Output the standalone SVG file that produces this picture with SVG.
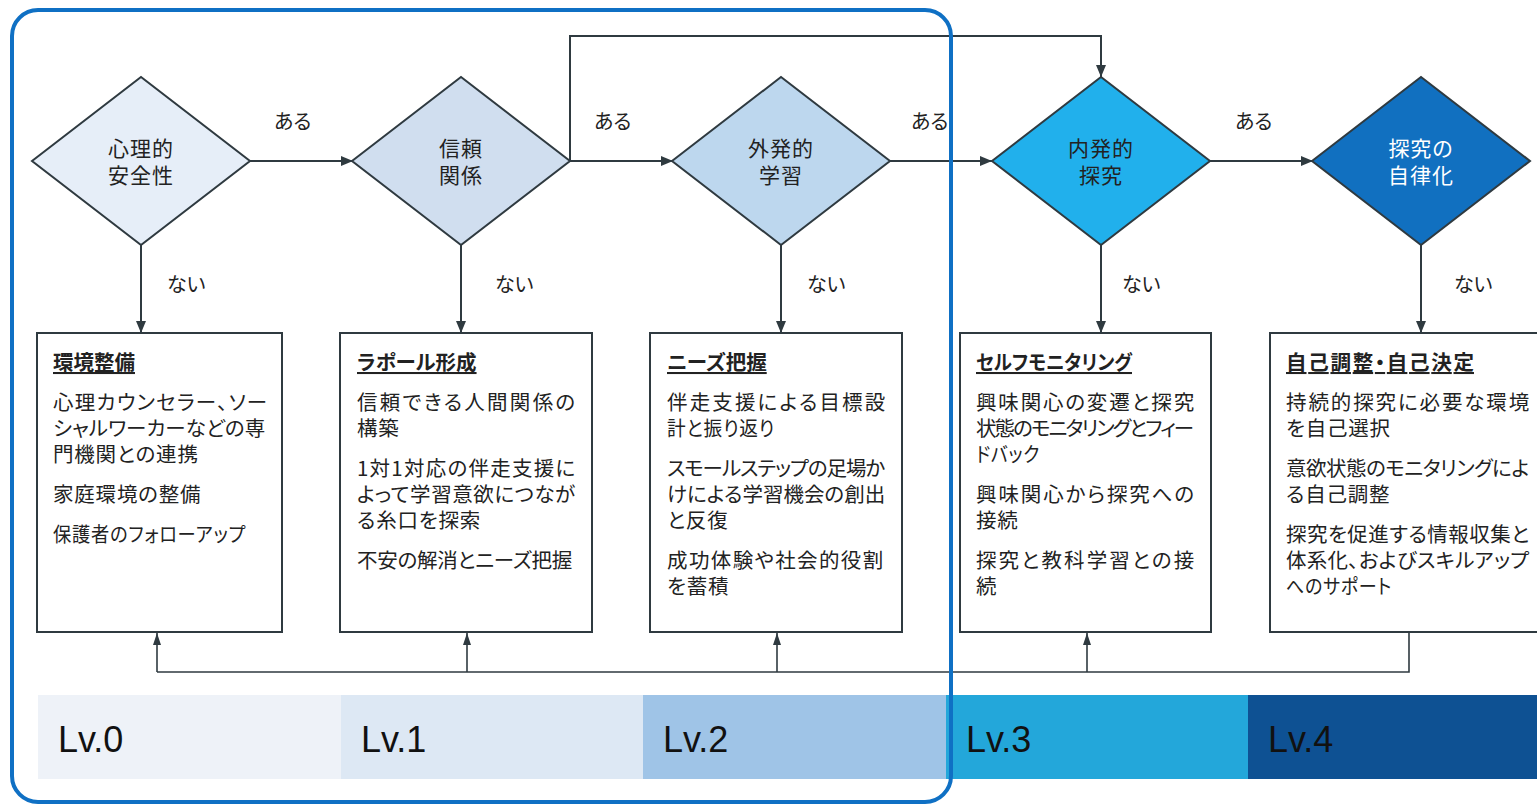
<svg xmlns="http://www.w3.org/2000/svg" width="1537" height="804" viewBox="0 0 1537 804">
<style>
.jp{font-family:"Noto Sans CJK JP","Noto Sans",sans-serif;font-feature-settings:"palt";fill:#222}
.dia{stroke:#2f3a40;stroke-width:2}
.dt{font-size:21px;letter-spacing:1px;text-anchor:middle}
.lbl{font-size:20px}
.box{fill:#fff;stroke:#2f3a40;stroke-width:2}
.ttl{font-size:20.5px;font-weight:700;text-decoration:underline}
.bt{font-size:20.5px;letter-spacing:0.8px}
.con{fill:none;stroke:#2f3a40;stroke-width:2}
.fb{fill:none;stroke:#2f3a40;stroke-width:1.6}
.lv{font-family:"Liberation Sans",Arial,sans-serif;font-size:36px;fill:#111}
</style>
<defs>
<marker id="ah" viewBox="0 0 12 10" refX="12" refY="5" markerWidth="12" markerHeight="10" markerUnits="userSpaceOnUse" orient="auto"><path d="M0,0 L12,5 L0,10 z" fill="#2f3a40"/></marker>
<marker id="ahs" viewBox="0 0 12 8" refX="12" refY="4" markerWidth="12" markerHeight="8" markerUnits="userSpaceOnUse" orient="auto"><path d="M0,0 L12,4 L0,8 z" fill="#2f3a40"/></marker>
</defs>
<rect width="1537" height="804" fill="#fff"/>

<g id="levels">
<rect x="38" y="695" width="303" height="84" fill="#eef2f8"/>
<rect x="341" y="695" width="302" height="84" fill="#dde8f4"/>
<rect x="643" y="695" width="303" height="84" fill="#9fc4e7"/>
<rect x="946" y="695" width="302" height="84" fill="#23a7da"/>
<rect x="1248" y="695" width="289" height="84" fill="#0e5193"/>
<text class="lv" x="58" y="752">Lv.0</text>
<text class="lv" x="361" y="752">Lv.1</text>
<text class="lv" x="663" y="752">Lv.2</text>
<text class="lv" x="966" y="752">Lv.3</text>
<text class="lv" x="1268" y="752">Lv.4</text>
</g>

<g id="connectors">
<line class="con" x1="250" y1="161" x2="353" y2="161" marker-end="url(#ah)"/>
<line class="con" x1="570" y1="161" x2="673" y2="161" marker-end="url(#ah)"/>
<line class="con" x1="889" y1="161" x2="992" y2="161" marker-end="url(#ah)"/>
<line class="con" x1="1210" y1="161" x2="1313" y2="161" marker-end="url(#ah)"/>
<path class="con" d="M570,161 V36 H1101 V77" marker-end="url(#ah)"/>
<line class="con" x1="141" y1="245" x2="141" y2="333" marker-end="url(#ah)"/>
<line class="con" x1="461" y1="245" x2="461" y2="333" marker-end="url(#ah)"/>
<line class="con" x1="781" y1="245" x2="781" y2="333" marker-end="url(#ah)"/>
<line class="con" x1="1101" y1="245" x2="1101" y2="333" marker-end="url(#ah)"/>
<line class="con" x1="1421" y1="245" x2="1421" y2="333" marker-end="url(#ah)"/>
<path class="fb" d="M1409,632 V672 H157"/>
<line class="fb" x1="157" y1="672" x2="157" y2="633" marker-end="url(#ahs)"/>
<line class="fb" x1="467" y1="672" x2="467" y2="633" marker-end="url(#ahs)"/>
<line class="fb" x1="777" y1="672" x2="777" y2="633" marker-end="url(#ahs)"/>
<line class="fb" x1="1087" y1="672" x2="1087" y2="633" marker-end="url(#ahs)"/>
<text class="jp lbl" x="274" y="129">ある</text>
<text class="jp lbl" x="594" y="129">ある</text>
<text class="jp lbl" x="911" y="129">ある</text>
<text class="jp lbl" x="1235" y="129">ある</text>
<text class="jp lbl" x="167" y="292">ない</text>
<text class="jp lbl" x="495" y="292">ない</text>
<text class="jp lbl" x="807" y="292">ない</text>
<text class="jp lbl" x="1122" y="292">ない</text>
<text class="jp lbl" x="1454" y="292">ない</text>
</g>

<g id="d0">
<polygon class="dia" fill="#e6eef8" points="32,161 141,77 250,161 141,245"/>
<text class="jp dt"><tspan x="141" y="156">心理的</tspan><tspan x="141" y="183">安全性</tspan></text>
</g>
<g id="d1">
<polygon class="dia" fill="#d0deef" points="352,161 461,77 570,161 461,245"/>
<text class="jp dt"><tspan x="461" y="156">信頼</tspan><tspan x="461" y="183">関係</tspan></text>
</g>
<g id="d2">
<polygon class="dia" fill="#bdd7ee" points="672,161 781,77 890,161 781,245"/>
<text class="jp dt"><tspan x="781" y="156">外発的</tspan><tspan x="781" y="183">学習</tspan></text>
</g>
<g id="d3">
<polygon class="dia" fill="#21b0ec" points="992,161 1101,77 1210,161 1101,245"/>
<text class="jp dt"><tspan x="1101" y="156">内発的</tspan><tspan x="1101" y="183">探究</tspan></text>
</g>
<g id="d4">
<polygon class="dia" fill="#1170c0" points="1312,161 1421,77 1530,161 1421,245"/>
<text class="jp dt" style="fill:#fff"><tspan x="1421" y="156">探究の</tspan><tspan x="1421" y="183">自律化</tspan></text>
</g>

<g id="b0">
<rect class="box" x="37" y="333" width="245" height="299"/>
<text class="jp ttl" x="53" y="370">環境整備</text>
<text class="jp bt"><tspan x="53" y="410" textLength="215">心理カウンセラー、ソー</tspan><tspan x="53" y="436" textLength="213">シャルワーカーなどの専</tspan><tspan x="53" y="462">門機関との連携</tspan></text>
<text class="jp bt" x="53" y="502">家庭環境の整備</text>
<text class="jp bt" x="53" y="542" textLength="193" lengthAdjust="spacingAndGlyphs">保護者のフォローアップ</text>
</g>
<g id="b1">
<rect class="box" x="340" y="333" width="252" height="299"/>
<text class="jp ttl" x="357" y="370">ラポール形成</text>
<text class="jp bt"><tspan x="357" y="410" textLength="219">信頼できる人間関係の</tspan><tspan x="357" y="436">構築</tspan></text>
<text class="jp bt"><tspan x="357" y="476" textLength="219">1対1対応の伴走支援に</tspan><tspan x="357" y="502" textLength="219">よって学習意欲につなが</tspan><tspan x="357" y="528">る糸口を探索</tspan></text>
<text class="jp bt" x="357" y="568" textLength="216">不安の解消とニーズ把握</text>
</g>
<g id="b2">
<rect class="box" x="650" y="333" width="252" height="299"/>
<text class="jp ttl" x="667" y="370">ニーズ把握</text>
<text class="jp bt"><tspan x="667" y="410" textLength="219">伴走支援による目標設</tspan><tspan x="667" y="436" textLength="108" lengthAdjust="spacingAndGlyphs">計と振り返り</tspan></text>
<text class="jp bt"><tspan x="667" y="476" textLength="219">スモールステップの足場か</tspan><tspan x="667" y="502" textLength="219">けによる学習機会の創出</tspan><tspan x="667" y="528">と反復</tspan></text>
<text class="jp bt"><tspan x="667" y="568" textLength="217">成功体験や社会的役割</tspan><tspan x="667" y="594">を蓄積</tspan></text>
</g>
<g id="b3">
<rect class="box" x="960" y="333" width="251" height="299"/>
<text class="jp ttl" x="976" y="370" textLength="156" lengthAdjust="spacingAndGlyphs">セルフモニタリング</text>
<text class="jp bt"><tspan x="976" y="410" textLength="219">興味関心の変遷と探究</tspan><tspan x="976" y="436" textLength="219">状態のモニタリングとフィー</tspan><tspan x="976" y="462" textLength="64" lengthAdjust="spacingAndGlyphs">ドバック</tspan></text>
<text class="jp bt"><tspan x="976" y="502" textLength="219">興味関心から探究への</tspan><tspan x="976" y="528">接続</tspan></text>
<text class="jp bt"><tspan x="976" y="568" textLength="219">探究と教科学習との接</tspan><tspan x="976" y="594">続</tspan></text>
</g>
<g id="b4">
<rect class="box" x="1270" y="333" width="290" height="299"/>
<text class="jp ttl" x="1286" y="370" textLength="188">自己調整・自己決定</text>
<text class="jp bt"><tspan x="1286" y="410" textLength="244">持続的探究に必要な環境</tspan><tspan x="1286" y="436">を自己選択</tspan></text>
<text class="jp bt"><tspan x="1286" y="476" textLength="244">意欲状態のモニタリングによ</tspan><tspan x="1286" y="502">る自己調整</tspan></text>
<text class="jp bt"><tspan x="1286" y="542" textLength="244">探究を促進する情報収集と</tspan><tspan x="1286" y="568" textLength="244">体系化、およびスキルアップ</tspan><tspan x="1286" y="594" textLength="106" lengthAdjust="spacingAndGlyphs">へのサポート</tspan></text>
</g>

<g id="frame">
<rect x="12" y="10" width="939" height="792" rx="26" ry="26" fill="none" stroke="#0f70c4" stroke-width="4"/>
</g>
</svg>
